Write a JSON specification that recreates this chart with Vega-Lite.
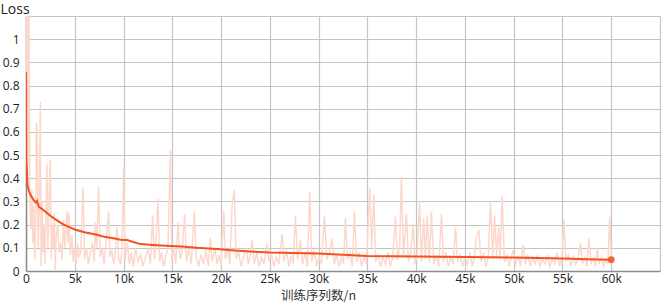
{
  "$schema": "https://vega.github.io/schema/vega-lite/v6.json",
  "width": 634,
  "height": 255,
  "autosize": "none",
  "padding": {"left": 26, "top": 16, "right": 1, "bottom": 32},
  "config": {"view": {"stroke": null}, "font": "Open Sans"},
  "datasets": {
    "raw": [
      {"step":0,"loss":0.86},{"step":100,"loss":1.2},{"step":200,"loss":0.45},{"step":300,"loss":1.2},{"step":400,"loss":0.3},{"step":500,"loss":0.18},{"step":600,"loss":0.35},{"step":700,"loss":0.12},{"step":800,"loss":0.28},{"step":900,"loss":0.05},{"step":1000,"loss":0.22},{"step":1060,"loss":0.64},{"step":1150,"loss":0.6},{"step":1250,"loss":0.1},{"step":1350,"loss":0.25},{"step":1470,"loss":0.73},{"step":1550,"loss":0.02},{"step":1650,"loss":0.3},{"step":1750,"loss":0.08},{"step":1850,"loss":0.2},{"step":1950,"loss":0.03},{"step":2050,"loss":0.25},{"step":2150,"loss":0.46},{"step":2250,"loss":0.1},{"step":2350,"loss":0.3},{"step":2490,"loss":0.48},{"step":2600,"loss":0.05},{"step":2700,"loss":0.2},{"step":2800,"loss":0.1},{"step":2900,"loss":0.25},{"step":3000,"loss":0.0},{"step":3100,"loss":0.15},{"step":3250,"loss":0.2},{"step":3400,"loss":0.08},{"step":3550,"loss":0.12},{"step":3700,"loss":0.05},{"step":3850,"loss":0.22},{"step":4000,"loss":0.1},{"step":4200,"loss":0.257},{"step":4300,"loss":0.12},{"step":4400,"loss":0.25},{"step":4550,"loss":0.07},{"step":4700,"loss":0.15},{"step":4850,"loss":0.04},{"step":5000,"loss":0.1},{"step":5150,"loss":0.03},{"step":5300,"loss":0.12},{"step":5450,"loss":0.06},{"step":5600,"loss":0.08},{"step":5850,"loss":0.36},{"step":6000,"loss":0.05},{"step":6200,"loss":0.1},{"step":6400,"loss":0.03},{"step":6600,"loss":0.08},{"step":6800,"loss":0.12},{"step":7000,"loss":0.04},{"step":7100,"loss":0.21},{"step":7250,"loss":0.1},{"step":7450,"loss":0.365},{"step":7600,"loss":0.06},{"step":7800,"loss":0.1},{"step":8000,"loss":0.03},{"step":8200,"loss":0.12},{"step":8470,"loss":0.257},{"step":8600,"loss":0.06},{"step":8800,"loss":0.09},{"step":9000,"loss":0.03},{"step":9150,"loss":0.08},{"step":9330,"loss":0.19},{"step":9500,"loss":0.05},{"step":9700,"loss":0.03},{"step":9850,"loss":0.1},{"step":10010,"loss":0.45},{"step":10150,"loss":0.05},{"step":10400,"loss":0.12},{"step":10600,"loss":0.03},{"step":10800,"loss":0.08},{"step":11000,"loss":0.02},{"step":11250,"loss":0.1},{"step":11500,"loss":0.04},{"step":11750,"loss":0.07},{"step":12000,"loss":0.02},{"step":12250,"loss":0.06},{"step":12500,"loss":0.1},{"step":12750,"loss":0.03},{"step":12990,"loss":0.24},{"step":13150,"loss":0.05},{"step":13300,"loss":0.1},{"step":13530,"loss":0.31},{"step":13700,"loss":0.04},{"step":13900,"loss":0.08},{"step":14100,"loss":0.02},{"step":14300,"loss":0.06},{"step":14550,"loss":0.1},{"step":14800,"loss":0.52},{"step":14950,"loss":0.04},{"step":15150,"loss":0.1},{"step":15350,"loss":0.03},{"step":15590,"loss":0.21},{"step":15800,"loss":0.05},{"step":16000,"loss":0.08},{"step":16270,"loss":0.245},{"step":16450,"loss":0.04},{"step":16700,"loss":0.1},{"step":16950,"loss":0.03},{"step":17260,"loss":0.26},{"step":17450,"loss":0.06},{"step":17700,"loss":0.02},{"step":17950,"loss":0.07},{"step":18200,"loss":0.03},{"step":18450,"loss":0.09},{"step":18700,"loss":0.02},{"step":18900,"loss":0.144},{"step":19100,"loss":0.04},{"step":19350,"loss":0.1},{"step":19600,"loss":0.03},{"step":19800,"loss":0.07},{"step":20000,"loss":0.02},{"step":20270,"loss":0.26},{"step":20450,"loss":0.05},{"step":20700,"loss":0.09},{"step":20900,"loss":0.03},{"step":21130,"loss":0.286},{"step":21360,"loss":0.35},{"step":21550,"loss":0.05},{"step":21800,"loss":0.08},{"step":22050,"loss":0.02},{"step":22300,"loss":0.06},{"step":22550,"loss":0.1},{"step":22800,"loss":0.03},{"step":23000,"loss":0.07},{"step":23180,"loss":0.134},{"step":23400,"loss":0.03},{"step":23650,"loss":0.08},{"step":23900,"loss":0.02},{"step":24150,"loss":0.06},{"step":24400,"loss":0.03},{"step":24700,"loss":0.12},{"step":24900,"loss":0.04},{"step":25150,"loss":0.08},{"step":25400,"loss":0.02},{"step":25650,"loss":0.06},{"step":25900,"loss":0.03},{"step":26260,"loss":0.16},{"step":26450,"loss":0.04},{"step":26700,"loss":0.09},{"step":26950,"loss":0.02},{"step":27200,"loss":0.07},{"step":27400,"loss":0.03},{"step":27620,"loss":0.24},{"step":27850,"loss":0.05},{"step":28130,"loss":0.134},{"step":28350,"loss":0.03},{"step":28600,"loss":0.08},{"step":28850,"loss":0.02},{"step":29090,"loss":0.34},{"step":29300,"loss":0.04},{"step":29550,"loss":0.09},{"step":29800,"loss":0.02},{"step":30050,"loss":0.06},{"step":30300,"loss":0.03},{"step":30600,"loss":0.24},{"step":30850,"loss":0.05},{"step":31100,"loss":0.08},{"step":31380,"loss":0.14},{"step":31600,"loss":0.03},{"step":31850,"loss":0.07},{"step":32100,"loss":0.02},{"step":32350,"loss":0.06},{"step":32550,"loss":0.03},{"step":32750,"loss":0.228},{"step":32950,"loss":0.05},{"step":33200,"loss":0.08},{"step":33450,"loss":0.02},{"step":33670,"loss":0.257},{"step":33900,"loss":0.04},{"step":34150,"loss":0.08},{"step":34400,"loss":0.02},{"step":34650,"loss":0.06},{"step":34900,"loss":0.03},{"step":35240,"loss":0.358},{"step":35450,"loss":0.1},{"step":35650,"loss":0.33},{"step":35850,"loss":0.04},{"step":36100,"loss":0.07},{"step":36350,"loss":0.02},{"step":36600,"loss":0.06},{"step":36850,"loss":0.03},{"step":37100,"loss":0.08},{"step":37350,"loss":0.02},{"step":37600,"loss":0.06},{"step":37880,"loss":0.235},{"step":38100,"loss":0.05},{"step":38300,"loss":0.1},{"step":38490,"loss":0.408},{"step":38700,"loss":0.06},{"step":39000,"loss":0.25},{"step":39200,"loss":0.04},{"step":39450,"loss":0.08},{"step":39690,"loss":0.206},{"step":39900,"loss":0.03},{"step":40100,"loss":0.07},{"step":40340,"loss":0.3},{"step":40550,"loss":0.04},{"step":40780,"loss":0.228},{"step":40950,"loss":0.05},{"step":41120,"loss":0.238},{"step":41350,"loss":0.04},{"step":41570,"loss":0.257},{"step":41800,"loss":0.03},{"step":42050,"loss":0.07},{"step":42300,"loss":0.02},{"step":42600,"loss":0.247},{"step":42800,"loss":0.04},{"step":43050,"loss":0.08},{"step":43300,"loss":0.02},{"step":43550,"loss":0.06},{"step":43800,"loss":0.03},{"step":44030,"loss":0.187},{"step":44250,"loss":0.04},{"step":44500,"loss":0.07},{"step":44750,"loss":0.02},{"step":45000,"loss":0.06},{"step":45250,"loss":0.03},{"step":45500,"loss":0.08},{"step":45750,"loss":0.02},{"step":46000,"loss":0.07},{"step":46150,"loss":0.14},{"step":46420,"loss":0.177},{"step":46650,"loss":0.04},{"step":46900,"loss":0.08},{"step":47150,"loss":0.02},{"step":47400,"loss":0.06},{"step":47620,"loss":0.3},{"step":47850,"loss":0.05},{"step":48050,"loss":0.24},{"step":48250,"loss":0.06},{"step":48450,"loss":0.19},{"step":48600,"loss":0.05},{"step":48820,"loss":0.322},{"step":49050,"loss":0.04},{"step":49300,"loss":0.07},{"step":49550,"loss":0.02},{"step":49750,"loss":0.06},{"step":49950,"loss":0.09},{"step":50200,"loss":0.03},{"step":50450,"loss":0.06},{"step":50700,"loss":0.02},{"step":50970,"loss":0.113},{"step":51200,"loss":0.03},{"step":51450,"loss":0.07},{"step":51700,"loss":0.02},{"step":51950,"loss":0.06},{"step":52200,"loss":0.03},{"step":52450,"loss":0.07},{"step":52700,"loss":0.02},{"step":52950,"loss":0.05},{"step":53200,"loss":0.03},{"step":53450,"loss":0.07},{"step":53700,"loss":0.02},{"step":53950,"loss":0.05},{"step":54200,"loss":0.03},{"step":54450,"loss":0.08},{"step":54700,"loss":0.02},{"step":54950,"loss":0.06},{"step":55140,"loss":0.22},{"step":55350,"loss":0.04},{"step":55600,"loss":0.07},{"step":55850,"loss":0.02},{"step":56100,"loss":0.06},{"step":56350,"loss":0.03},{"step":56600,"loss":0.05},{"step":56850,"loss":0.12},{"step":57050,"loss":0.03},{"step":57300,"loss":0.06},{"step":57500,"loss":0.02},{"step":57700,"loss":0.14},{"step":57950,"loss":0.03},{"step":58200,"loss":0.06},{"step":58400,"loss":0.02},{"step":58560,"loss":0.1},{"step":58750,"loss":0.03},{"step":59000,"loss":0.06},{"step":59200,"loss":0.02},{"step":59450,"loss":0.05},{"step":59650,"loss":0.03},{"step":59850,"loss":0.235},{"step":60000,"loss":0.05}
    ],
    "smooth": [
      {"step":0,"loss":0.856},{"step":30,"loss":0.47},{"step":100,"loss":0.44},{"step":150,"loss":0.37},{"step":300,"loss":0.345},{"step":500,"loss":0.325},{"step":780,"loss":0.307},{"step":1000,"loss":0.295},{"step":1130,"loss":0.302},{"step":1300,"loss":0.278},{"step":1700,"loss":0.265},{"step":2150,"loss":0.25},{"step":2500,"loss":0.238},{"step":2830,"loss":0.228},{"step":3300,"loss":0.215},{"step":3860,"loss":0.2},{"step":4400,"loss":0.19},{"step":5060,"loss":0.178},{"step":6000,"loss":0.167},{"step":7280,"loss":0.156},{"step":8000,"loss":0.148},{"step":8980,"loss":0.141},{"step":9670,"loss":0.135},{"step":10360,"loss":0.134},{"step":11000,"loss":0.125},{"step":11720,"loss":0.116},{"step":13000,"loss":0.112},{"step":14800,"loss":0.108},{"step":16000,"loss":0.106},{"step":17500,"loss":0.1},{"step":19930,"loss":0.094},{"step":21000,"loss":0.09},{"step":23000,"loss":0.084},{"step":25000,"loss":0.08},{"step":27500,"loss":0.078},{"step":30000,"loss":0.075},{"step":32500,"loss":0.07},{"step":35000,"loss":0.065},{"step":37500,"loss":0.064},{"step":40000,"loss":0.063},{"step":42500,"loss":0.061},{"step":45000,"loss":0.06},{"step":47500,"loss":0.059},{"step":50000,"loss":0.058},{"step":52500,"loss":0.056},{"step":55000,"loss":0.054},{"step":57500,"loss":0.051},{"step":60000,"loss":0.049}
    ],
    "last": [{"step":60000,"loss":0.049}]
  },
  "encoding": {
    "x": {
      "field": "step", "type": "quantitative",
      "scale": {"domain": [0, 65000], "nice": false, "zero": false},
      "axis": {
        "values": [0,5000,10000,15000,20000,25000,30000,35000,40000,45000,50000,55000,60000,65000],
        "labelExpr": "datum.value == 0 ? '0' : (datum.value >= 65000 ? '' : (datum.value/1000) + 'k')",
        "ticks": false, "grid": true, "gridColor": "#c4c4c4", "gridWidth": 1.2,
        "domainColor": "#8c8c8c", "domainWidth": 1.5,
        "labelFont": "Open Sans", "labelFontSize": 12, "labelColor": "#222", "labelPadding": 2,
        "labelFlush": false,
        "title": "训练序列数/n", "titleFont": "Noto Sans CJK SC", "titleFontSize": 12.5, "titleFontWeight": "normal",
        "titleColor": "#333", "titleX": 292, "titleY": 24.5, "titleAnchor": "middle", "titleAlign": "center", "titleBaseline": "middle"
      }
    },
    "y": {
      "field": "loss", "type": "quantitative",
      "scale": {"domain": [0, 1.1], "nice": false},
      "axis": {
        "values": [0,0.1,0.2,0.3,0.4,0.5,0.6,0.7,0.8,0.9,1,1.1],
        "labelExpr": "datum.value > 1.05 ? '' : format(datum.value, '~g')",
        "ticks": false, "grid": true, "gridColor": "#c4c4c4", "gridWidth": 1.2,
        "domainColor": "#8c8c8c", "domainWidth": 1.5,
        "labelFont": "Open Sans", "labelFontSize": 12, "labelColor": "#222", "labelPadding": 7,
        "title": "Loss", "titleFont": "Open Sans", "titleFontSize": 14, "titleFontWeight": "normal",
        "titleColor": "#222", "titleAngle": 0, "titleX": -26, "titleY": -7, "titleAlign": "left", "titleBaseline": "middle"
      }
    }
  },
  "layer": [
    {"data": {"name": "raw"}, "mark": {"type": "line", "color": "#fcd8cc", "strokeWidth": 1.5, "clip": true}},
    {"data": {"name": "smooth"}, "mark": {"type": "line", "color": "#f4511e", "strokeWidth": 2, "clip": true}},
    {"data": {"name": "last"}, "mark": {"type": "point", "filled": true, "color": "#f4511e", "size": 45, "opacity": 0.85}}
  ]
}
